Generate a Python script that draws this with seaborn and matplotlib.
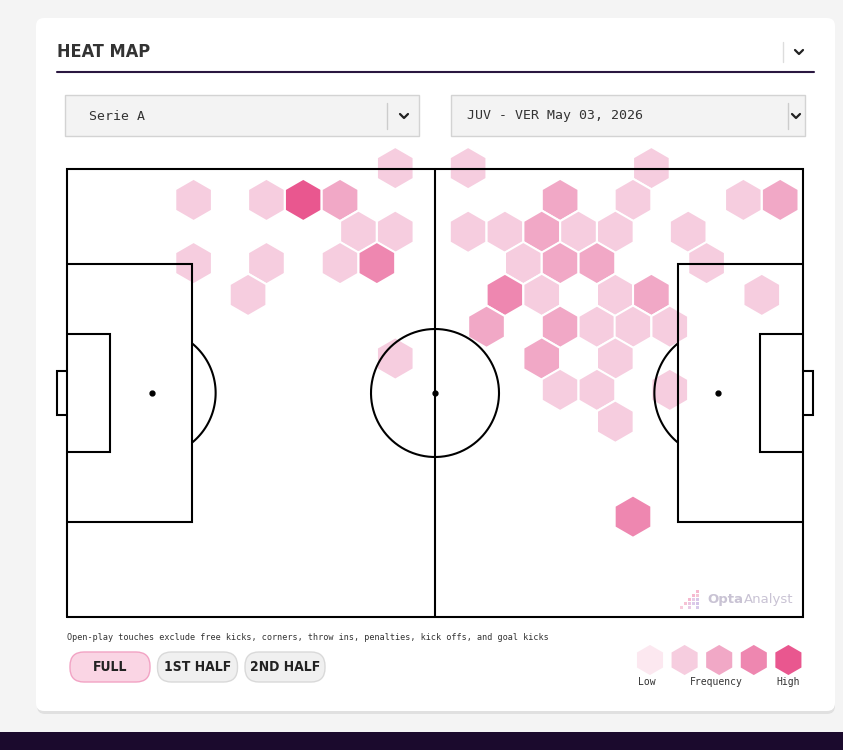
import numpy as np
import pandas as pd
import matplotlib.pyplot as plt
import seaborn as sns
from matplotlib.patches import FancyBboxPatch, Rectangle

# === Data: hex bins on an Opta pitch (0-100 both ways), frequency level 1-5 ===
hex_x = [17.2, 27.1, 32.1, 37.1, 44.6, 39.6, 44.6, 17.2, 27.1, 37.1, 42.1, 24.6, 44.6,
         54.5, 79.4, 67.0, 76.9, 91.9, 96.9,
         54.5, 59.5, 64.5, 69.5, 74.5, 84.4,
         62.0, 67.0, 72.0, 86.9,
         59.5, 64.5, 74.5, 79.4, 94.4,
         57.0, 67.0, 72.0, 76.9, 81.9,
         64.5, 74.5,
         67.0, 72.0, 81.9,
         74.5,
         76.9]
hex_y = [93.1, 93.1, 93.1, 93.1, 100.2, 86.0, 86.0, 79.0, 79.0, 79.0, 79.0, 71.9, 57.7,
         100.2, 100.2, 93.1, 93.1, 93.1, 93.1,
         86.0, 86.0, 86.0, 86.0, 86.0, 86.0,
         79.0, 79.0, 79.0, 79.0,
         71.9, 71.9, 71.9, 71.9, 71.9,
         64.8, 64.8, 64.8, 64.8, 64.8,
         57.7, 57.7,
         50.7, 50.7, 50.7,
         43.6,
         22.4]
hex_level = [2, 2, 5, 3, 2, 2, 2, 2, 2, 2, 4, 2, 2,
             2, 2, 3, 2, 2, 3,
             2, 2, 3, 2, 2, 2,
             2, 3, 3, 2,
             4, 2, 2, 3, 2,
             3, 3, 2, 2, 2,
             3, 2,
             2, 2, 2,
             2,
             4]

level_colors = ['#fce8f0', '#f6cddf', '#f1a8c6', '#ee87b0', '#e9578f']
legend_levels = [1, 2, 3, 4, 5]
legend_labels = ['Low', 'Frequency', 'High']
buttons = ['FULL', '1ST HALF', '2ND HALF']
competition = 'Serie A'
match_name = 'JUV - VER May 03, 2026'
note = ('Open-play touches exclude free kicks, corners, throw ins, penalties, '
        'kick offs, and goal kicks')

# === Style ===
sns.set_theme(style='white')
plt.rcParams['font.family'] = ['DejaVu Sans']
cond = ['Liberation Sans Narrow', 'DejaVu Sans']
mono = 'DejaVu Sans Mono'
palette = {lv: c for lv, c in zip(legend_levels, level_colors)}

fig = plt.figure(figsize=(8.43, 7.5), dpi=100)
fig.patch.set_facecolor('#f4f4f4')

# background axes in pixel units
bg = fig.add_axes([0, 0, 1, 1])
bg.set_xlim(0, 843)
bg.set_ylim(750, 0)
bg.axis('off')

bg.add_patch(FancyBboxPatch((37, 20), 798, 694, boxstyle='round,pad=0,rounding_size=8',
                            fc='#e0e0e0', ec='none'))
bg.add_patch(FancyBboxPatch((36, 18), 799, 693, boxstyle='round,pad=0,rounding_size=8',
                            fc='white', ec='none'))
bg.add_patch(Rectangle((0, 732), 843, 18, fc='#1b0a2d', ec='none'))


def chevron(x, y):
    bg.plot([x - 4, x, x + 4], [y - 2, y + 2, y - 2], color='#222222', lw=1.6,
            solid_capstyle='round', solid_joinstyle='round')


# header
bg.text(57, 52, 'HEAT MAP', family=cond, fontstretch='condensed', weight='bold',
        fontsize=13, color='#333333', va='center', ha='left')
bg.plot([57, 814], [72, 72], color='#2a1740', lw=1.5)
bg.plot([783, 783], [42, 62], color='#dddddd', lw=1)
chevron(799, 52)

# dropdowns
for x0, label, sep in [(65, competition, 387), (451, match_name, 788)]:
    bg.add_patch(Rectangle((x0, 95), 354, 41, fc='#f3f3f3', ec='#d3d3d3', lw=1))
    bg.text(x0 + (24 if x0 == 65 else 16), 116, label, family=mono, fontsize=9.5,
            color='#333333', va='center', ha='left')
    bg.plot([sep, sep], [103, 129], color='#cccccc', lw=1)
    chevron(sep + 17 if x0 == 65 else sep + 8, 116)

# footnote and buttons
bg.text(67, 638, note, family=mono, fontsize=6.1, color='#333333', va='center', ha='left')
for i, b in enumerate(buttons):
    x0 = 70 + i * 87.5
    active = i == 0
    bg.add_patch(FancyBboxPatch((x0, 652), 80, 30, boxstyle='round,pad=0,rounding_size=14',
                                fc='#fad5e4' if active else '#f0f0f0',
                                ec='#f2a3c4' if active else '#d9d9d9', lw=1))
    bg.text(x0 + 40, 667, b, family=cond, fontstretch='condensed', weight='bold',
            fontsize=10, color='#222222', va='center', ha='center')

# frequency legend
leg = pd.DataFrame({'level': legend_levels})
leg['x'] = 650 + (leg['level'] - 1) * 34.6
leg['y'] = 660
sns.scatterplot(data=leg, x='x', y='y', hue='level', palette=palette, marker='h',
                s=470, linewidth=0, legend=False, ax=bg)
for lab, xc in zip(legend_labels, [647, 716, 788]):
    bg.text(xc, 682, lab, family=mono, fontsize=7, color='#333333', ha='center', va='center')

# Opta Analyst mark
bg.text(707, 600, 'Opta', weight='bold', fontsize=9.5, color='#c9c3d4', va='center', ha='left')
bg.text(744, 600, 'Analyst', fontsize=9.5, color='#c9c3d4', va='center', ha='left')
sq = [(697, 591, '#f6b9cf'), (693, 595, '#f6b9cf'), (697, 595, '#f4c6d6'), (689, 599, '#f6b9cf'),
      (693, 599, '#e6cbe6'), (697, 599, '#d9c6e8'), (685, 603, '#f6c2d4'), (689, 603, '#eac6e2'),
      (693, 603, '#dccbea'), (697, 603, '#d4c4e8'), (681, 607, '#f8ccdc'), (689, 607, '#e9cbe6'),
      (697, 607, '#d7c9ea')]
for sx, sy, sc in sq:
    bg.add_patch(Rectangle((sx - 1.5, sy - 1.5), 3, 3, fc=sc, ec='none'))

# === Pitch axes (Opta coords) ===
ax = fig.add_axes([40 / 843, 120 / 750, 790 / 843, 490 / 750])
ax.set_xlim(-3.668, 103.668)
ax.set_ylim(-2.902, 106.473)
ax.axis('off')
ax.patch.set_alpha(0)

df = pd.DataFrame({'x': hex_x, 'y': hex_y, 'level': hex_level})
sns.scatterplot(data=df, x='x', y='y', hue='level', palette=palette, marker='h',
                s=931, edgecolor='white', linewidth=1.5, legend=False, ax=ax, zorder=2,
                clip_on=False)

lc = dict(color='black', lw=1.5, zorder=3, solid_joinstyle='miter')
ax.plot([0, 100, 100, 0, 0], [0, 0, 100, 100, 0], **lc)
ax.plot([50, 50], [0, 100], **lc)
for side in [0, 1]:
    s = 1 if side == 0 else -1
    x0 = 0 if side == 0 else 100
    ax.plot([x0, x0 + s * 17, x0 + s * 17, x0], [21.1, 21.1, 78.9, 78.9], **lc)
    ax.plot([x0, x0 + s * 5.8, x0 + s * 5.8, x0], [36.8, 36.8, 63.2, 63.2], **lc)
    ax.plot([x0, x0 - s * 1.4, x0 - s * 1.4, x0], [45.2, 45.2, 54.8, 54.8], **lc)
    spot = x0 + s * 11.5
    t = np.linspace(-np.arccos(40.5 / 64), np.arccos(40.5 / 64), 60)
    ax.plot(spot + s * 64 * np.cos(t) / 7.36, 50 + 64 * np.sin(t) / 4.48, **lc)
    ax.plot(spot, 50, 'o', color='black', ms=3.5, zorder=3)
t = np.linspace(0, 2 * np.pi, 200)
ax.plot(50 + 64 * np.cos(t) / 7.36, 50 + 64 * np.sin(t) / 4.48, **lc)
ax.plot(50, 50, 'o', color='black', ms=3.5, zorder=3)

fig.savefig('out.png', dpi=100, facecolor=fig.get_facecolor())
